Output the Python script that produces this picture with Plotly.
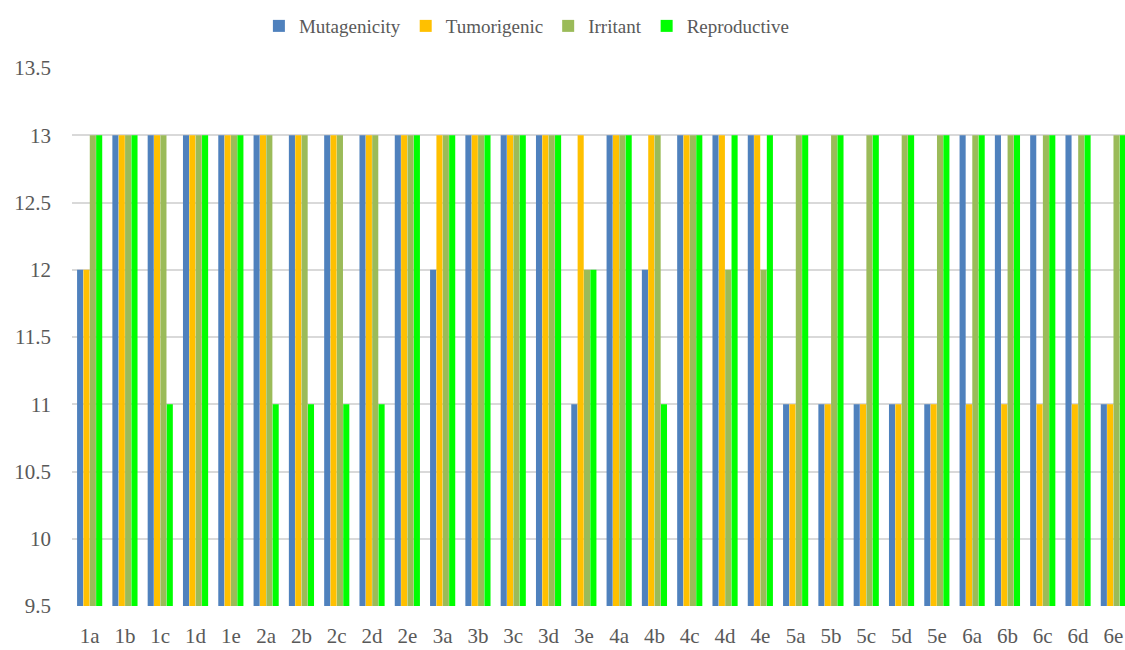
import plotly.graph_objects as go

compounds = ["1a", "1b", "1c", "1d", "1e",
             "2a", "2b", "2c", "2d", "2e",
             "3a", "3b", "3c", "3d", "3e",
             "4a", "4b", "4c", "4d", "4e",
             "5a", "5b", "5c", "5d", "5e",
             "6a", "6b", "6c", "6d", "6e"]

mutagenicity = [12, 13, 13, 13, 13,
                13, 13, 13, 13, 13,
                12, 13, 13, 13, 11,
                13, 12, 13, 13, 13,
                11, 11, 11, 11, 11,
                13, 13, 13, 13, 11]

tumorigenic = [12, 13, 13, 13, 13,
               13, 13, 13, 13, 13,
               13, 13, 13, 13, 13,
               13, 13, 13, 13, 13,
               11, 11, 11, 11, 11,
               11, 11, 11, 11, 11]

irritant = [13, 13, 13, 13, 13,
            13, 13, 13, 13, 13,
            13, 13, 13, 13, 12,
            13, 13, 13, 12, 12,
            13, 13, 13, 13, 13,
            13, 13, 13, 13, 13]

reproductive = [13, 13, 11, 13, 13,
                11, 11, 11, 11, 13,
                13, 13, 13, 13, 12,
                13, 11, 13, 13, 13,
                13, 13, 13, 13, 13,
                13, 13, 13, 13, 13]

y_ticks = [9.5, 10, 10.5, 11, 11.5, 12, 12.5, 13, 13.5]
y_tick_text = ["9.5", "10", "10.5", "11", "11.5", "12", "12.5", "13", "13.5"]

series = [
    ("Mutagenicity", mutagenicity, "#4F81BD"),
    ("Tumorigenic", tumorigenic, "#FFC000"),
    ("Irritant", irritant, "#9BBB59"),
    ("Reproductive", reproductive, "#00FF00"),
]

FONT = "Liberation Serif"
TEXT = "#595959"

fig = go.Figure()
for name, vals, color in series:
    fig.add_trace(go.Bar(
        name=name, x=compounds, y=vals,
        marker=dict(color=color, line=dict(width=0)),
    ))

fig.update_layout(
    width=1125, height=650,
    margin=dict(l=72, r=0, t=68, b=44),
    paper_bgcolor="white", plot_bgcolor="white",
    barmode="group", bargap=0.28, bargroupgap=0.04,
    font=dict(family=FONT, size=21, color=TEXT),
    legend=dict(orientation="h", x=0.432, xanchor="center",
                y=1.078, yanchor="middle",
                font=dict(family=FONT, size=19, color=TEXT),
                itemwidth=30, traceorder="normal"),
    xaxis=dict(range=[-0.5, 29.33], showgrid=False, showline=False,
               ticks="", ticklabelstandoff=15,
               tickfont=dict(family=FONT, size=21, color=TEXT)),
    yaxis=dict(range=[9.5, 13.5], tickvals=y_ticks, ticktext=y_tick_text,
               showgrid=True, gridcolor="#d9d9d9", gridwidth=1.6,
               zeroline=False, showline=False, ticks="",
               ticklabelstandoff=20,
               tickfont=dict(family=FONT, size=21, color=TEXT)),
)

fig.write_html("out.html")
